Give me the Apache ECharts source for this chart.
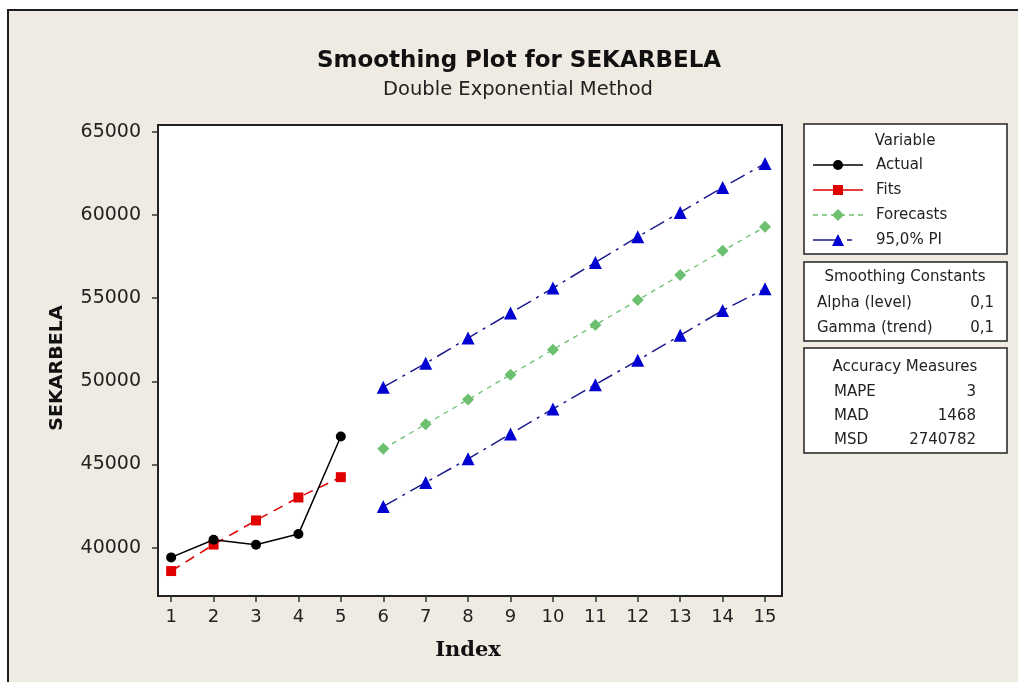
<!DOCTYPE html>
<html>
<head>
<meta charset="utf-8">
<script src="https://cdn.jsdelivr.net/npm/echarts@6/dist/echarts.min.js"></script>
<style>
  html, body { margin: 0; padding: 0; background: #ffffff; overflow: hidden; }
  #frame {
    position: absolute; left: 7px; top: 9px; width: 1030px; height: 700px;
    background: #efebe2; border-left: 2px solid #1e1e1e; border-top: 2px solid #1e1e1e;
  }
  #chart { position: absolute; left: 0; top: 0; width: 1018px; height: 682px; }
</style>
</head>
<body>
<div id="frame"></div>
<div id="chart"></div>
<script>
// Index values on the horizontal axis
const indexTicks = [1, 2, 3, 4, 5, 6, 7, 8, 9, 10, 11, 12, 13, 14, 15];
const yTicks = [40000, 45000, 50000, 55000, 60000, 65000];

// Observed series and one-step fits (index 1..5)
const actualIndex = [1, 2, 3, 4, 5];
const actual = [39420, 40480, 40180, 40820, 46680];
const fits = [38600, 40190, 41640, 43020, 44240];

// Forecasts with 95% prediction interval (index 6..15)
const forecastIndex = [6, 7, 8, 9, 10, 11, 12, 13, 14, 15];
const forecasts = [45940, 47420, 48900, 50400, 51900, 53380, 54880, 56380, 57840, 59280];
const upperPI = [49650, 51080, 52600, 54100, 55600, 57140, 58680, 60150, 61650, 63080];
const lowerPI = [42480, 43920, 45340, 46840, 48340, 49800, 51260, 52760, 54260, 55560];

// Side panels
const smoothingLabels = ['Alpha (level)', 'Gamma (trend)'];
const smoothingValues = ['0,1', '0,1'];
const accuracyLabels = ['MAPE', 'MAD', 'MSD'];
const accuracyValues = ['3', '1468', '2740782'];

const pair = (xs, ys) => xs.map((x, i) => [x, ys[i]]);

const FONT = '"DejaVu Sans", Tahoma, Verdana, sans-serif';
const RED = '#e00000', GREEN = '#6cc070', BLUE = '#0000d0', NAVY = '#1a1a8c';

const chart = echarts.init(document.getElementById('chart'), null, { renderer: 'canvas' });

// Legend / info panels drawn as graphic elements
const panelX = 804, panelW = 203;
const g = [];
function box(y, h) {
  g.push({ type: 'rect', shape: { x: panelX, y: y, width: panelW, height: h },
    style: { fill: '#ffffff', stroke: '#222', lineWidth: 1.5 }, z: 10 });
}
function txt(x, y, s, align, size) {
  g.push({ type: 'text', x: x, y: y, z: 11,
    style: { text: s, fill: '#222', font: (size || 15) + 'px ' + FONT, align: align || 'left', verticalAlign: 'middle' } });
}
box(124, 130);
txt(905, 141, 'Variable', 'center');
const legendRows = [
  { name: 'Actual', color: '#000', symbol: 'circle', size: 10, dash: null, line: '#000' },
  { name: 'Fits', color: RED, symbol: 'rect', size: 10, dash: null, line: RED },
  { name: 'Forecasts', color: GREEN, symbol: 'diamond', size: 12, dash: [5, 4], line: GREEN },
  { name: '95,0% PI', color: BLUE, symbol: 'triangle', size: 12, dash: [28, 6, 5, 20], line: NAVY }
];
legendRows.forEach((r, i) => {
  const y = 165 + i * 25;
  g.push({ type: 'line', shape: { x1: 813, y1: y, x2: 863, y2: y }, z: 11,
    style: { stroke: r.line, lineWidth: 1.5, lineDash: r.dash } });
  const s = r.size;
  let shape;
  if (r.symbol === 'circle') shape = { type: 'circle', shape: { cx: 838, cy: y, r: s / 2 } };
  else if (r.symbol === 'rect') shape = { type: 'rect', shape: { x: 838 - s / 2, y: y - s / 2, width: s, height: s } };
  else if (r.symbol === 'diamond') shape = { type: 'polygon', shape: { points: [[838, y - s / 2], [838 + s / 2, y], [838, y + s / 2], [838 - s / 2, y]] } };
  else shape = { type: 'polygon', shape: { points: [[838, y - s / 2], [838 + s / 2, y + s / 2], [838 - s / 2, y + s / 2]] } };
  shape.style = { fill: r.color }; shape.z = 12;
  g.push(shape);
  txt(876, y, r.name);
});
box(262, 79);
txt(905, 277, 'Smoothing Constants', 'center');
smoothingLabels.forEach((l, i) => { txt(817, 303 + i * 25, l); txt(994, 303 + i * 25, smoothingValues[i], 'right'); });
box(348, 105);
txt(905, 367, 'Accuracy Measures', 'center');
accuracyLabels.forEach((l, i) => { txt(834, 392 + i * 24, l); txt(976, 392 + i * 24, accuracyValues[i], 'right'); });

// Titles and axis names
g.push({ type: 'text', x: 519, y: 61, z: 11, style: { text: 'Smoothing Plot for SEKARBELA', fill: '#111',
  font: 'bold 23px ' + FONT, align: 'center', verticalAlign: 'middle' } });
g.push({ type: 'text', x: 518, y: 90, z: 11, style: { text: 'Double Exponential Method', fill: '#222',
  font: '19.5px ' + FONT, align: 'center', verticalAlign: 'middle' } });
g.push({ type: 'text', x: 468, y: 651, z: 11, style: { text: 'Index', fill: '#111',
  font: 'bold 21px "DejaVu Serif", serif', align: 'center', verticalAlign: 'middle' } });
g.push({ type: 'text', x: 58, y: 368, rotation: Math.PI / 2, scaleX: 1.12, z: 11, style: { text: 'SEKARBELA', fill: '#111',
  font: 'bold 17px ' + FONT, align: 'center', verticalAlign: 'middle' } });

const option = {
  backgroundColor: 'transparent',
  animation: false,
  grid: { left: 158, top: 125, width: 624, height: 471, show: true, backgroundColor: '#ffffff',
    borderColor: '#222', borderWidth: 2 },
  xAxis: {
    type: 'value', min: 0.69, max: 15.4,
    axisLine: { show: false },
    splitLine: { show: false },
    axisTick: { show: true, length: 6, inside: false, customValues: indexTicks, lineStyle: { color: '#333', width: 1.5 } },
    axisLabel: { customValues: indexTicks, margin: 12, color: '#222', fontSize: 18, fontFamily: FONT,
      formatter: v => String(v) }
  },
  yAxis: {
    type: 'value', min: 37100, max: 65400,
    axisLine: { show: false },
    splitLine: { show: false },
    axisTick: { show: true, length: 6, inside: false, customValues: yTicks, lineStyle: { color: '#333', width: 1.5 } },
    axisLabel: { customValues: yTicks, margin: 17, color: '#222', fontSize: 19, fontFamily: FONT,
      formatter: v => String(v) }
  },
  series: [
    { name: 'Fits', type: 'line', data: pair(actualIndex, fits), symbol: 'rect', symbolSize: 10,
      itemStyle: { color: RED }, lineStyle: { color: RED, width: 1.5, type: [10, 7] }, z: 3 },
    { name: 'Actual', type: 'line', data: pair(actualIndex, actual), symbol: 'circle', symbolSize: 10,
      itemStyle: { color: '#000' }, lineStyle: { color: '#000', width: 1.5 }, z: 4 },
    { name: 'Forecasts', type: 'line', data: pair(forecastIndex, forecasts), symbol: 'diamond', symbolSize: 12,
      itemStyle: { color: GREEN }, lineStyle: { color: GREEN, width: 1.3, type: [5, 5] }, z: 3 },
    { name: 'Upper PI', type: 'line', data: pair(forecastIndex, upperPI), symbol: 'triangle', symbolSize: 13,
      itemStyle: { color: BLUE }, lineStyle: { color: NAVY, width: 1.5, type: [16, 6, 3, 6] }, z: 3 },
    { name: 'Lower PI', type: 'line', data: pair(forecastIndex, lowerPI), symbol: 'triangle', symbolSize: 13,
      itemStyle: { color: BLUE }, lineStyle: { color: NAVY, width: 1.5, type: [16, 6, 3, 6] }, z: 3 }
  ],
  graphic: g
};
chart.setOption(option);
</script>
</body>
</html>
